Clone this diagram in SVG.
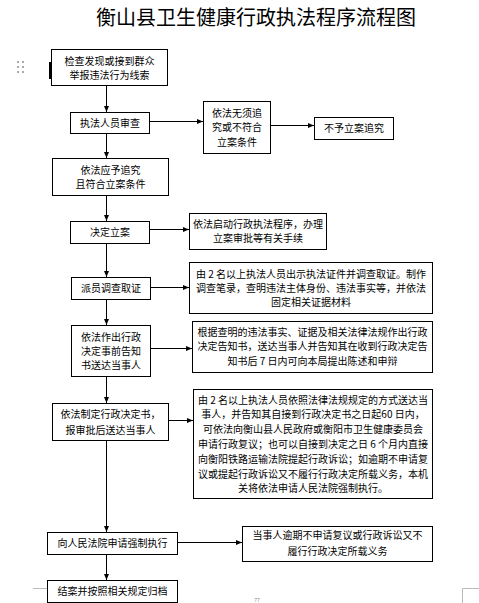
<svg xmlns="http://www.w3.org/2000/svg" width="479" height="603" viewBox="0 0 479 603">
<defs>
<marker id="ah" viewBox="0 0 6 6" refX="6" refY="3" markerWidth="6" markerHeight="6" markerUnits="userSpaceOnUse" orient="auto">
<path d="M0,0.5 L6,3 L0,5.5 Z" fill="#000"/>
</marker>
<style>
.box{fill:#fff;stroke:#000;stroke-width:1}
.t{font-family:"Noto Sans CJK SC","Liberation Sans",sans-serif;font-size:10px;fill:#000;text-anchor:middle}
.c{stroke:#000;stroke-width:1;fill:none;marker-end:url(#ah)}
.mk{stroke:#bbb;stroke-width:1;fill:none}
</style>
</defs>
<rect width="479" height="603" fill="#fff"/>
<text x="256" y="25" style="font-family:'Noto Sans CJK SC','Liberation Sans',sans-serif;font-size:20px;fill:#000;text-anchor:middle">衡山县卫生健康行政执法程序流程图</text>
<g id="handle" fill="#aaa">
<rect x="17" y="61" width="2" height="2"/><rect x="22" y="61" width="2" height="2"/>
<rect x="17" y="66" width="2" height="2"/><rect x="22" y="66" width="2" height="2"/>
<rect x="17" y="71" width="2" height="2"/><rect x="22" y="71" width="2" height="2"/>
</g>
<rect x="49" y="62" width="2" height="17" fill="#000"/>
<g id="connectors">
<line class="c" x1="106.5" y1="86" x2="106.5" y2="112"/>
<line class="c" x1="149" y1="121.5" x2="203" y2="121.5"/>
<line class="c" x1="270" y1="125.5" x2="314" y2="125.5"/>
<line class="c" x1="106.5" y1="133" x2="106.5" y2="158"/>
<line class="c" x1="106.5" y1="195" x2="106.5" y2="221"/>
<line class="c" x1="149" y1="229.5" x2="189" y2="229.5"/>
<line class="c" x1="106.5" y1="243" x2="106.5" y2="277"/>
<line class="c" x1="150" y1="287.5" x2="189" y2="287.5"/>
<line class="c" x1="106.5" y1="299" x2="106.5" y2="325"/>
<line class="c" x1="150" y1="348.5" x2="192" y2="348.5"/>
<line class="c" x1="106.5" y1="376" x2="106.5" y2="403"/>
<line class="c" x1="169" y1="420.5" x2="193" y2="420.5"/>
<line class="c" x1="106.5" y1="440" x2="106.5" y2="532"/>
<line class="c" x1="177" y1="542.5" x2="242" y2="542.5"/>
<line class="c" x1="106.5" y1="554" x2="106.5" y2="580"/>
</g>
<g id="n1"><rect class="box" x="51.5" y="49.5" width="116" height="36"/>
<text class="t" x="109.5" y="65">检查发现或接到群众</text><text class="t" x="109.5" y="79">举报违法行为线索</text></g>
<g id="n2"><rect class="box" x="70.5" y="112.5" width="79" height="21"/>
<text class="t" x="110" y="127">执法人员审查</text></g>
<g id="n3"><rect class="box" x="203.5" y="101.5" width="67" height="52"/>
<text class="t" x="237" y="117">依法无须追</text><text class="t" x="237" y="131">究或不符合</text><text class="t" x="237" y="146">立案条件</text></g>
<g id="n4"><rect class="box" x="314.5" y="117.5" width="79" height="22"/>
<text class="t" x="354" y="132">不予立案追究</text></g>
<g id="n5"><rect class="box" x="52.5" y="158.5" width="116" height="37"/>
<text class="t" x="110.5" y="174">依法应予追究</text><text class="t" x="110.5" y="188">且符合立案条件</text></g>
<g id="n6"><rect class="box" x="70.5" y="221.5" width="79" height="22"/>
<text class="t" x="110" y="236">决定立案</text></g>
<g id="n7"><rect class="box" x="189.5" y="213.5" width="137" height="36"/>
<text class="t" x="258" y="228">依法启动行政执法程序，办理</text><text class="t" x="258" y="242">立案审批等有关手续</text></g>
<g id="n8"><rect class="box" x="71.5" y="277.5" width="79" height="22"/>
<text class="t" x="111" y="292">派员调查取证</text></g>
<g id="n9"><rect class="box" x="189.5" y="262.5" width="243" height="51"/>
<text class="t" x="311" y="278">由 2 名以上执法人员出示执法证件并调查取证。制作</text>
<text class="t" x="311" y="292">调查笔录，查明违法主体身份、违法事实等，并依法</text>
<text class="t" x="311" y="306">固定相关证据材料</text></g>
<g id="n10"><rect class="box" x="71.5" y="325.5" width="79" height="51"/>
<text class="t" x="111" y="341">依法作出行政</text><text class="t" x="111" y="355">决定事前告知</text><text class="t" x="111" y="369">书送达当事人</text></g>
<g id="n11"><rect class="box" x="192.5" y="321.5" width="240" height="51"/>
<text class="t" x="312.5" y="336">根据查明的违法事实、证据及相关法律法规作出行政</text>
<text class="t" x="312.5" y="350">决定告知书，送达当事人并告知其在收到行政决定告</text>
<text class="t" x="312.5" y="365">知书后 7 日内可向本局提出陈述和申辩</text></g>
<g id="n12"><rect class="box" x="52.5" y="403.5" width="116" height="37"/>
<text class="t" x="110.5" y="418">依法制定行政决定书，</text><text class="t" x="110.5" y="434">报审批后送达当事人</text></g>
<g id="n13"><rect class="box" x="193.5" y="389.5" width="239" height="109"/>
<text class="t" x="313" y="404">由 2 名以上执法人员依照法律法规规定的方式送达当</text>
<text class="t" x="313" y="418">事人，并告知其自接到行政决定书之日起60 日内，</text>
<text class="t" x="313" y="433">可依法向衡山县人民政府或衡阳市卫生健康委员会</text>
<text class="t" x="313" y="448">申请行政复议；也可以自接到决定之日 6 个月内直接</text>
<text class="t" x="313" y="463">向衡阳铁路运输法院提起行政诉讼；如逾期不申请复</text>
<text class="t" x="313" y="478">议或提起行政诉讼又不履行行政决定所载义务，本机</text>
<text class="t" x="313" y="492">关将依法申请人民法院强制执行。</text></g>
<g id="n14"><rect class="box" x="47.5" y="532.5" width="130" height="22"/>
<text class="t" x="112.5" y="547">向人民法院申请强制执行</text></g>
<g id="n15"><rect class="box" x="242.5" y="526.5" width="190" height="35"/>
<text class="t" x="337.5" y="539">当事人逾期不申请复议或行政诉讼又不</text>
<text class="t" x="337.5" y="555">履行行政决定所载义务</text></g>
<g id="n16"><rect class="box" x="47.5" y="580.5" width="130" height="22"/>
<text class="t" x="112.5" y="595">结案并按照相关规定归档</text></g>
<path class="mk" d="M33,588.5 H47"/>
<path class="mk" d="M462.5,603 V588.5 H479"/>
<text x="257" y="602" style="font-family:'Liberation Sans',sans-serif;font-size:5px;fill:#888;text-anchor:middle">77</text>
</svg>
